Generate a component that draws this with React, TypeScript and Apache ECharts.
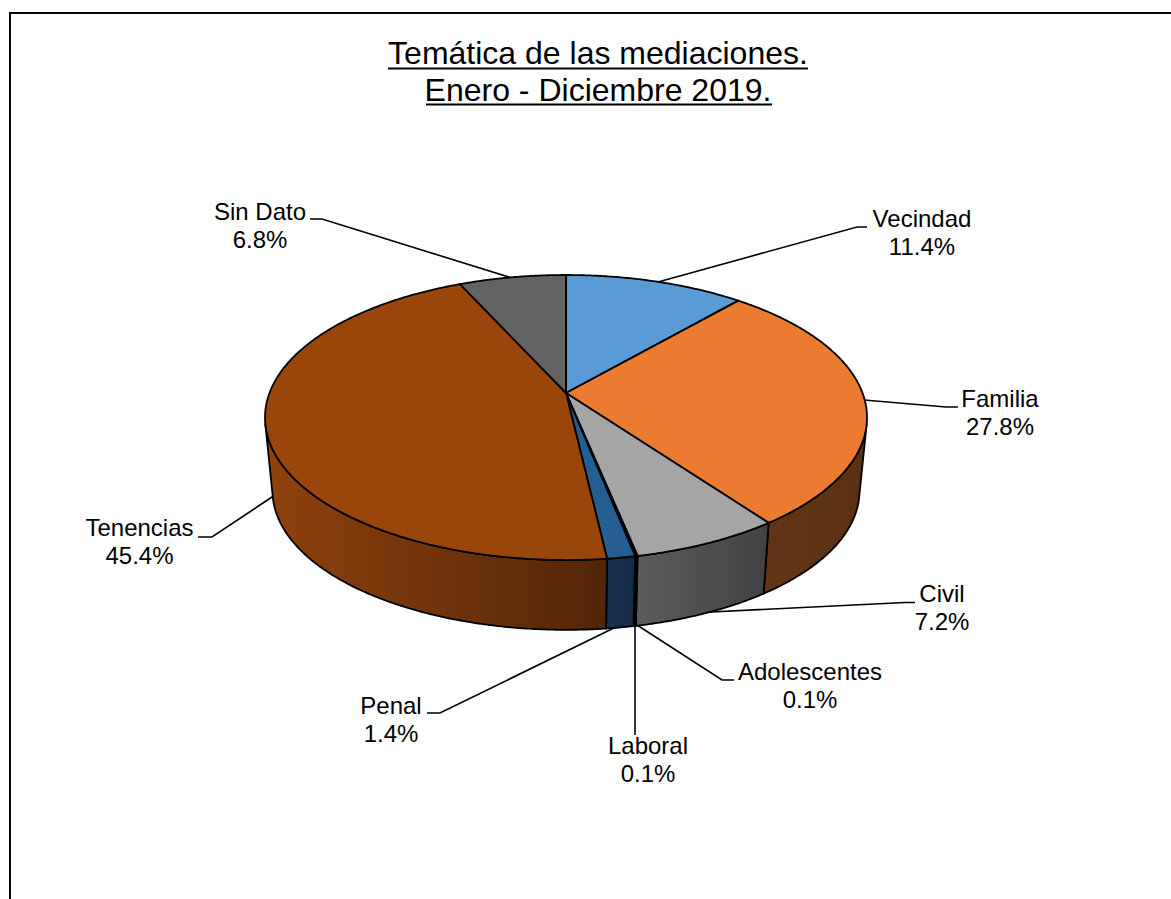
import React, { useEffect, useRef } from "react";
import * as echarts from "echarts";

const CATEGORIES = ["Vecindad", "Familia", "Civil", "Adolescentes", "Laboral", "Penal", "Tenencias", "Sin Dato"];
const VALUES = [11.4, 27.8, 7.2, 0.06, 0.06, 1.4, 45.4, 6.8];
const TITLE_LINES = ["Temática de las mediaciones.", "Enero - Diciembre 2019."];

const TOP_COLORS = ["#5B9BD5", "#EB7B30", "#A5A5A5", "#FFC000", "#4472C4", "#255E91", "#9A460B", "#636363"];
const WALL_SHADES = [
  ["#37648f", "#2d5478"],
  ["#623415", "#5b3013"],
  ["#5c5c5c", "#424242"],
  ["#7a6000", "#7a6000"],
  ["#1f3864", "#1f3864"],
  ["#15324f", "#122b44"],
  ["#8f420c", "#522508"],
  ["#3d3d3d", "#3d3d3d"],
];

// text anchors [x, y of first line] and leader polylines, one per category
const LABEL_POS = [[922, 218], [1000, 398], [942, 593], [810, 671], [648, 745], [391, 705], [139.5, 527], [260, 211]];
const LEADERS = [
  [[658, 282], [857, 227], [867, 227]],
  [[864, 400], [946, 407], [958, 407]],
  [[690, 613], [905, 602.5], [915, 602.5]],
  [[637, 625], [722, 680], [734, 680]],
  [[635, 620], [635, 735]],
  [[618, 626], [440, 713], [427, 713]],
  [[275, 495], [212, 537], [198, 537]],
  [[512, 278], [322, 219], [310, 219]],
];

const FONT = '"Liberation Sans", Arial, sans-serif';
const CX = 566, APEX_Y = 393, A = 296.5, B = 138.3, P = 0.172;
const BOTTOM_Y = 467, BOTTOM_SCALE = 0.975;
const TOTAL = VALUES.reduce((s, v) => s + v, 0);
const DEG = Math.PI / 180;

function project(deg: number, bottom: boolean): [number, number] {
  const hump = deg > 90 && deg < 180 ? -Math.sin(2 * deg * DEG) : 0;
  const warped = deg + 0.37 * (1 - Math.cos(deg * DEG)) / 2 + 2.73 * hump;
  const x = Math.sin(warped * DEG), y = Math.cos(warped * DEG);
  const w = 1 + P * y;
  const s = bottom ? BOTTOM_SCALE : 1;
  return [CX + (A * s * x) / w, (bottom ? BOTTOM_Y : APEX_Y) - (B * s * y) / w];
}

function sliceRange(i: number): [number, number] {
  let before = 0;
  for (let k = 0; k < i; k++) before += VALUES[k];
  return [(before / TOTAL) * 360, ((before + VALUES[i]) / TOTAL) * 360];
}

function samples(a: number, b: number): number[] {
  const n = Math.max(1, Math.ceil((b - a) / 0.5));
  const out: number[] = [];
  for (let i = 0; i <= n; i++) out.push(a + ((b - a) * i) / n);
  return out;
}

const toPath = (pts: number[][], close: boolean) =>
  pts.map((p, i) => `${i ? "L" : "M"}${p[0].toFixed(2)} ${p[1].toFixed(2)}`).join("") + (close ? "Z" : "");

function renderTop(params: any) {
  const i = params.dataIndex;
  const [a, b] = sliceRange(i);
  const pts = [[CX, APEX_Y], ...samples(a, b).map((d) => project(d, false))];
  return {
    type: "path",
    shape: { pathData: toPath(pts, true) },
    style: { fill: TOP_COLORS[i], stroke: "#000", lineWidth: 1.8, lineJoin: "round" },
  };
}

function renderWall(params: any) {
  const i = params.dataIndex;
  const [a, b] = sliceRange(i);
  const ths = samples(a, b);
  // keep only the part of the rim that faces the viewer
  const visible: number[] = [];
  for (let k = 0; k < ths.length - 1; k++) {
    const p0 = project(ths[k], false), p1 = project(ths[k + 1], false), q0 = project(ths[k], true);
    const cross = (p1[0] - p0[0]) * (q0[1] - p0[1]) - (p1[1] - p0[1]) * (q0[0] - p0[0]);
    if (cross < 0) {
      if (!visible.length) visible.push(ths[k]);
      visible.push(ths[k + 1]);
    }
  }
  if (visible.length < 2) return null;
  const topArc = visible.map((d) => project(d, false));
  const botArc = visible.map((d) => project(d, true)).reverse();
  const xs = [...topArc, ...botArc].map((p) => p[0]);
  const x0 = Math.min(...xs), x1 = Math.max(...xs);
  const fill = new echarts.graphic.LinearGradient(
    x0, 0, x1 + 0.01, 0,
    [{ offset: 0, color: WALL_SHADES[i][0] }, { offset: 1, color: WALL_SHADES[i][1] }],
    true
  );
  return {
    type: "path",
    shape: { pathData: toPath([...topArc, ...botArc], true) },
    style: { fill, stroke: "#000", lineWidth: 1.8, lineJoin: "round" },
  };
}

function buildGraphics() {
  const els: any[] = [];
  const text = (t: string, x: number, y: number, size: number) => ({
    type: "text",
    z: 10,
    silent: true,
    style: {
      text: t, x, y,
      fill: "#000",
      font: `${size}px ${FONT}`,
      align: "center", verticalAlign: "middle",
      textAlign: "center", textVerticalAlign: "middle",
    },
  });
  const line = (x1: number, y1: number, x2: number, y2: number, w: number) => ({
    type: "line", z: 1, silent: true,
    shape: { x1, y1, x2, y2 },
    style: { stroke: "#000", lineWidth: w },
  });
  // frame
  els.push(line(10, 13, 1171, 13, 2), line(10, 12, 10, 899, 2));
  // title with its underlines
  els.push(text(TITLE_LINES[0], 598, 53, 32), line(388, 68.5, 808, 68.5, 2));
  els.push(text(TITLE_LINES[1], 598, 90, 32), line(426, 104.5, 772, 104.5, 2));
  CATEGORIES.forEach((c, i) => {
    els.push({
      type: "polyline", z: 1, silent: true,
      shape: { points: LEADERS[i] },
      style: { stroke: "#000", lineWidth: 1.6, fill: "none" },
    });
    els.push(text(c, LABEL_POS[i][0], LABEL_POS[i][1], 24));
    els.push(text(`${VALUES[i].toFixed(1)}%`, LABEL_POS[i][0], LABEL_POS[i][1] + 28, 24));
  });
  return els;
}

export default function App() {
  const ref = useRef<HTMLDivElement>(null);
  useEffect(() => {
    document.body.style.margin = "0";
    const chart = echarts.init(ref.current!, null, { renderer: "svg" });
    chart.setOption({
      animation: false,
      backgroundColor: "#fff",
      tooltip: { show: false },
      graphic: { elements: buildGraphics() },
      series: [
        { type: "custom", coordinateSystem: "none", z: 4, silent: true, renderItem: renderWall, data: VALUES.map((v) => [v]) },
        { type: "custom", coordinateSystem: "none", z: 5, silent: true, renderItem: renderTop, data: VALUES.map((v) => [v]) },
      ],
    });
    return () => chart.dispose();
  }, []);
  return (
    <div style={{ position: "fixed", left: 0, top: 0, width: 1171, height: 899 }}>
      <div ref={ref} style={{ width: 1171, height: 899 }} />
    </div>
  );
}
